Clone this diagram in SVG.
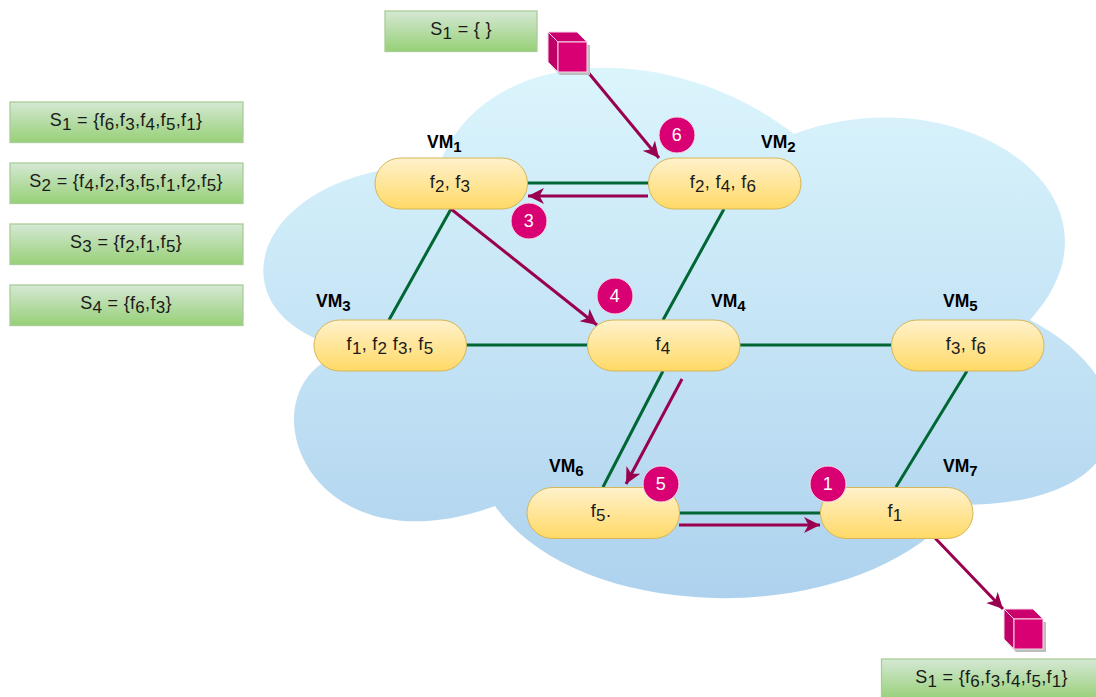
<svg xmlns="http://www.w3.org/2000/svg" width="1096" height="697" viewBox="0 0 1096 697">
<style>
text{font-family:"Liberation Sans",Arial,sans-serif;fill:#1a1a1a;font-size:18px;text-anchor:middle;letter-spacing:.3px}
.sub{baseline-shift:-4px;font-size:17px}
.vm{font-weight:bold;text-anchor:start;fill:#000;font-size:17.5px;letter-spacing:0}
.vm .sub{font-size:15px}
.pill{fill:url(#yg);stroke:#d6b656;stroke-width:1}
.box{fill:url(#gg);stroke:#a9cd96;stroke-width:1.3}
.g{stroke:#006633;stroke-width:3;fill:none}
.r{stroke:#99004f;stroke-width:3;fill:none;marker-end:url(#ah)}
.c{fill:#d80073;stroke:#f3e0ea;stroke-width:1}
.n{fill:#fff}
.front{fill:#d80073;stroke:#f5d9e8;stroke-width:1}
.side{fill:#bf0066;stroke:#f5d9e8;stroke-width:1}
.sh{fill:#bdbdbd}
</style>
<defs>
<linearGradient id="cl" gradientUnits="userSpaceOnUse" x1="0" y1="68" x2="0" y2="598"><stop offset="0" stop-color="#dbf5fc"/><stop offset="1" stop-color="#aed2ee"/></linearGradient>
<linearGradient id="yg" x1="0" y1="0" x2="0" y2="1"><stop offset="0" stop-color="#fff2cc"/><stop offset="1" stop-color="#ffd966"/></linearGradient>
<linearGradient id="gg" x1="0" y1="0" x2="0" y2="1"><stop offset="0" stop-color="#d5e8d4"/><stop offset="1" stop-color="#97d077"/></linearGradient>
<marker id="ah" markerUnits="userSpaceOnUse" markerWidth="20" markerHeight="18" refX="16" refY="8" orient="auto"><path d="M0 0L16 8L0 16L4.500 8Z" fill="#99004f"/></marker>
</defs>
<path id="cloud" fill="url(#cl)" d="M439 165C249 165 202 320 353 350C236 375 298 578 495 506C581 629 865 629 960 505C1149 505 1149 381 1030 320C1143 196 960 72 794 134C675 41 486 41 439 165Z"/>
<g id="connectors">
<path class="g" d="M527 183H648M451 209L389 320M724 209L663 320M466 345H587M739 345H891M663 371L603 487M967 371L896 487M679 513H820"/>
<path class="r" d="M587 71L659 158"/>
<path class="r" d="M648 196H528"/>
<path class="r" d="M451 209L597 325"/>
<path class="r" d="M682 379L626 484"/>
<path class="r" d="M679 525H820"/>
<path class="r" d="M935 538L1003 609"/>
</g>
<g id="vm1"><rect class="pill" x="375" y="158" width="152.500" height="51" rx="25.500"/><text x="450" y="188">f<tspan class="sub">2</tspan>, f<tspan class="sub">3</tspan></text><text class="vm" x="427" y="148">VM<tspan class="sub">1</tspan></text></g>
<g id="vm2"><rect class="pill" x="648.500" y="158" width="152.500" height="51" rx="25.500"/><text x="723" y="188">f<tspan class="sub">2</tspan>, f<tspan class="sub">4</tspan>, f<tspan class="sub">6</tspan></text><text class="vm" x="761" y="148">VM<tspan class="sub">2</tspan></text></g>
<g id="vm3"><rect class="pill" x="314" y="320" width="152.500" height="51" rx="25.500"/><text x="390" y="350">f<tspan class="sub">1</tspan>, f<tspan class="sub">2</tspan> f<tspan class="sub">3</tspan>, f<tspan class="sub">5</tspan></text><text class="vm" x="316" y="307">VM<tspan class="sub">3</tspan></text></g>
<g id="vm4"><rect class="pill" x="587.500" y="320" width="152.500" height="51" rx="25.500"/><text x="663" y="350">f<tspan class="sub">4</tspan></text><text class="vm" x="711" y="307">VM<tspan class="sub">4</tspan></text></g>
<g id="vm5"><rect class="pill" x="891.500" y="320" width="152.500" height="51" rx="25.500"/><text x="966" y="350">f<tspan class="sub">3</tspan>, f<tspan class="sub">6</tspan></text><text class="vm" x="943" y="307">VM<tspan class="sub">5</tspan></text></g>
<g id="vm6"><rect class="pill" x="527" y="487.500" width="152.500" height="51" rx="25.500"/><text x="601" y="517">f<tspan class="sub">5</tspan>.</text><text class="vm" x="549" y="472">VM<tspan class="sub">6</tspan></text></g>
<g id="vm7"><rect class="pill" x="820.500" y="487.500" width="152.500" height="51" rx="25.500"/><text x="895" y="517">f<tspan class="sub">1</tspan></text><text class="vm" x="943" y="472">VM<tspan class="sub">7</tspan></text></g>
<g id="step6"><circle class="c" cx="677" cy="135" r="18"/><text class="n" x="677" y="141">6</text></g>
<g id="step3"><circle class="c" cx="529" cy="221" r="18"/><text class="n" x="529" y="227">3</text></g>
<g id="step4"><circle class="c" cx="615" cy="296" r="18"/><text class="n" x="615" y="302">4</text></g>
<g id="step5"><circle class="c" cx="661" cy="484" r="18"/><text class="n" x="661" y="490">5</text></g>
<g id="step1"><circle class="c" cx="828" cy="484" r="18"/><text class="n" x="828" y="490">1</text></g>
<g id="s-top"><rect class="box" x="385" y="11" width="152" height="40.500"/><text x="461" y="35">S<tspan class="sub">1</tspan> = { }</text></g>
<g id="s1"><rect class="box" x="10" y="102" width="233" height="40.500"/><text x="126" y="126">S<tspan class="sub">1</tspan> = {f<tspan class="sub">6</tspan>,f<tspan class="sub">3</tspan>,f<tspan class="sub">4</tspan>,f<tspan class="sub">5</tspan>,f<tspan class="sub">1</tspan>}</text></g>
<g id="s2"><rect class="box" x="10" y="163" width="233" height="40.500"/><text x="126" y="187">S<tspan class="sub">2</tspan> = {f<tspan class="sub">4</tspan>,f<tspan class="sub">2</tspan>,f<tspan class="sub">3</tspan>,f<tspan class="sub">5</tspan>,f<tspan class="sub">1</tspan>,f<tspan class="sub">2</tspan>,f<tspan class="sub">5</tspan>}</text></g>
<g id="s3"><rect class="box" x="10" y="224" width="233" height="40.500"/><text x="126" y="248">S<tspan class="sub">3</tspan> = {f<tspan class="sub">2</tspan>,f<tspan class="sub">1</tspan>,f<tspan class="sub">5</tspan>}</text></g>
<g id="s4"><rect class="box" x="10" y="285" width="233" height="40.500"/><text x="126" y="309">S<tspan class="sub">4</tspan> = {f<tspan class="sub">6</tspan>,f<tspan class="sub">3</tspan>}</text></g>
<g id="s-bottom"><rect class="box" x="881.500" y="659" width="230" height="41"/><text x="991.500" y="683">S<tspan class="sub">1</tspan> = {f<tspan class="sub">6</tspan>,f<tspan class="sub">3</tspan>,f<tspan class="sub">4</tspan>,f<tspan class="sub">5</tspan>,f<tspan class="sub">1</tspan>}</text></g>
<g id="cube-in"><path class="sh" d="M551 35L560 45H590V75H560L551 66Z"/><path class="side" d="M548 32L558 42V72L548 62Z"/><path class="side" d="M548 32H577L587 42H558Z" style="fill:#cc006c"/><rect class="front" x="558" y="42" width="29" height="30"/></g>
<g id="cube-out"><path class="sh" d="M1007 612L1016 622H1046V652H1016L1007 643Z"/><path class="side" d="M1004 609L1014 619V649L1004 639Z"/><path class="side" d="M1004 609H1033L1043 619H1014Z" style="fill:#cc006c"/><rect class="front" x="1014" y="619" width="29" height="30"/></g>
</svg>
